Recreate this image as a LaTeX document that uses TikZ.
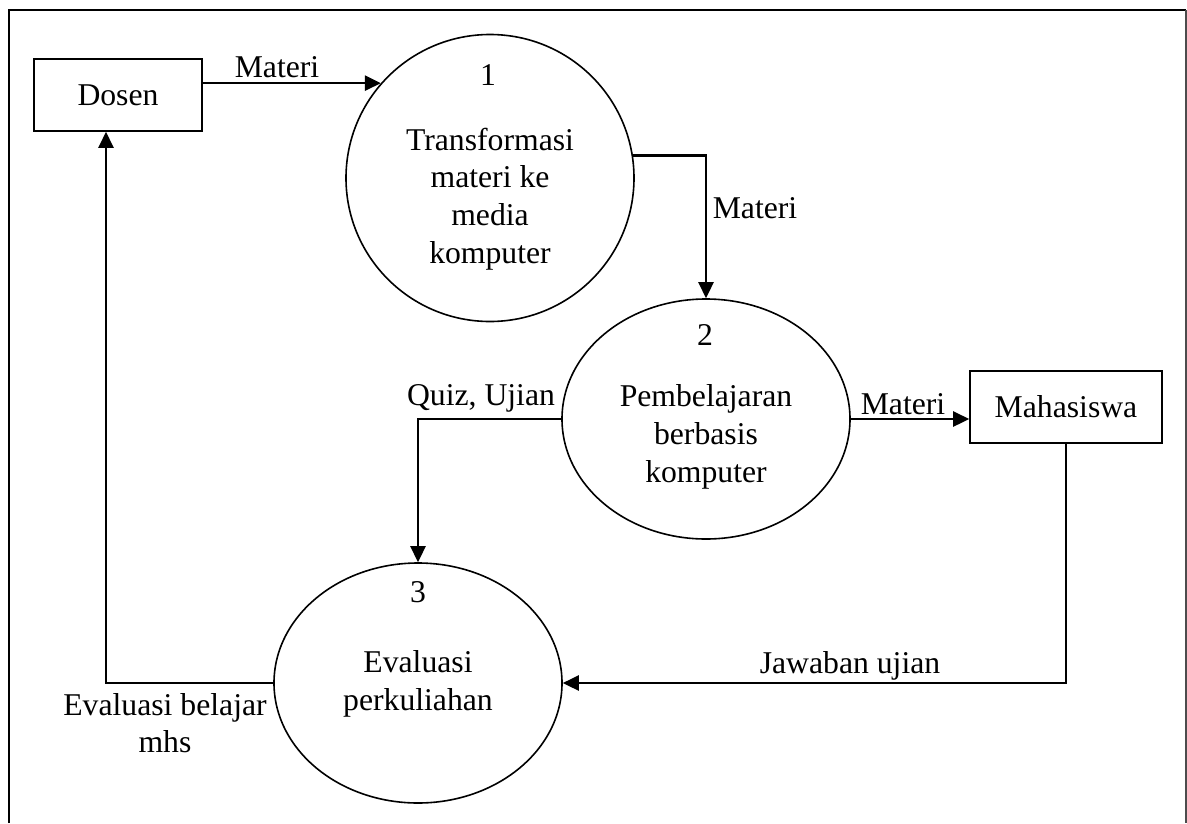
\documentclass[tikz,border=0pt]{standalone}
\usepackage{fontspec}
\setmainfont{Liberation Serif}
\usetikzlibrary{shapes.geometric}
\usetikzlibrary{arrows.meta, calc}

\begin{document}
\begin{tikzpicture}[x=1pt,y=-1pt,
  every node/.style={font=\fontsize{31.7pt}{37.7pt}\selectfont},
  entity/.style={draw,line width=1.6pt,rectangle,minimum height=72pt,inner sep=0pt},
  proc/.style={draw,line width=1.6pt,ellipse,minimum width=288pt,inner sep=0pt},
  flow/.style={line width=2.6pt,-{Triangle[length=16pt,width=15pt]}},
  txt/.style={align=center,inner sep=0pt}]
\useasboundingbox (0,0) rectangle (1187,823);
\draw[line width=2.2pt] (9,823) -- (9,10) -- (1186,10);
\draw[line width=1.2pt,black!70] (1186,10) -- (1186,823);

\node[entity,minimum width=168pt] (dosen) at (118,95) {Dosen};
\node[entity,minimum width=192pt] (mhs) at (1066,407) {Mahasiswa};

\node[proc,minimum height=287pt] (p1) at (490,178) {};
\node[txt] (n1) at (488,75) {1};
\node[txt] (t1) at (490,199) {Transformasi\\materi ke\\media\\komputer};

\node[proc,minimum height=240pt] (p2) at (706,419) {};
\node[txt] (n2) at (705,335) {2};
\node[txt] (t2) at (706,437) {Pembelajaran\\berbasis\\komputer};

\node[proc,minimum height=240pt] (p3) at (418,683) {};
\node[txt] (n3) at (418,592) {3};
\node[txt] (t3) at (418,684) {Evaluasi\\perkuliahan};

\draw[flow] (dosen.east |- p1.139) -- (p1.139);
\draw[flow] (p1.9) -| (p2.north);
\draw[flow] (p2.east) -- (p2.east -| mhs.west);
\draw[flow] (p2.west) -| (p3.north);
\draw[flow] (mhs.south) |- (p3.east);
\draw[flow] (p3.west) -| ($(dosen.south)+(-12,0)$);

\node[txt] (lmateri1) at (277,67) {Materi};
\node[txt] (lmateri2) at (755,208) {Materi};
\node[txt] (lmateri3) at (903,404) {Materi};
\node[txt] (lquiz) at (481,398) {Quiz, Ujian};
\node[txt] (ljawab) at (850,666) {Jawaban ujian};
\node[txt] (leval) at (165,723) {Evaluasi belajar\\mhs};

\end{tikzpicture}
\end{document}
